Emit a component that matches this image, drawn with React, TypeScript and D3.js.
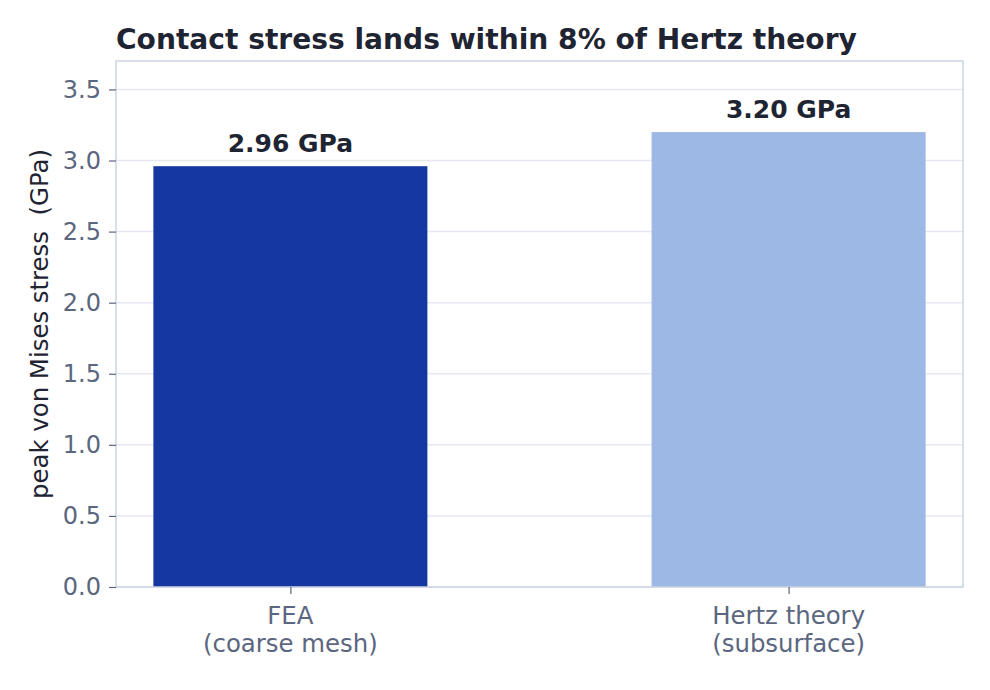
import React, { useEffect, useRef } from 'react';
import * as d3 from 'd3';

const categories = ['FEA\n(coarse mesh)', 'Hertz theory\n(subsurface)'];
const values = [2.96, 3.20];
const valueLabels = ['2.96 GPa', '3.20 GPa'];
const barColors = ['#1437a0', '#9db8e5'];
const yTicks = [0, 0.5, 1.0, 1.5, 2.0, 2.5, 3.0, 3.5];

export default function App() {
    const ref = useRef<SVGSVGElement>(null);

    useEffect(() => {
        if (!ref.current) return;
        const svg = d3.select(ref.current);
        svg.selectAll('*').remove();

        const width = 990;
        const height = 690;
        const margin = { top: 61, right: 27, bottom: 103, left: 116 };
        const font = "'DejaVu Sans', sans-serif";

        svg.attr('width', width).attr('height', height);
        svg.append('rect').attr('width', width).attr('height', height).attr('fill', '#fff');

        const x = d3.scaleLinear()
            .domain([-0.35, 1.35])
            .range([margin.left, width - margin.right]);
        const y = d3.scaleLinear()
            .domain([0, 3.7])
            .range([height - margin.bottom, margin.top]);
        const barW = x(0.55) - x(0);

        // grid
        svg.append('g')
            .selectAll('line')
            .data(yTicks)
            .enter()
            .append('line')
            .attr('x1', margin.left)
            .attr('x2', width - margin.right)
            .attr('y1', d => y(d))
            .attr('y2', d => y(d))
            .attr('stroke', '#e5e8f2')
            .attr('stroke-width', 1.5);

        // bars
        svg.append('g')
            .selectAll('rect')
            .data(values)
            .enter()
            .append('rect')
            .attr('x', (d, i) => x(i) - barW / 2)
            .attr('y', d => y(d))
            .attr('width', barW)
            .attr('height', d => y(0) - y(d))
            .attr('fill', (d, i) => barColors[i]);

        // value labels
        svg.append('g')
            .selectAll('text')
            .data(values)
            .enter()
            .append('text')
            .attr('x', (d, i) => x(i))
            .attr('y', d => y(d) - 14)
            .attr('text-anchor', 'middle')
            .attr('font-family', font)
            .attr('font-weight', 'bold')
            .attr('font-size', 25)
            .attr('fill', '#1f2433')
            .text((d, i) => valueLabels[i]);

        // frame
        svg.append('rect')
            .attr('x', margin.left)
            .attr('y', margin.top)
            .attr('width', width - margin.right - margin.left)
            .attr('height', height - margin.bottom - margin.top)
            .attr('fill', 'none')
            .attr('stroke', '#cbd5e1')
            .attr('stroke-width', 1.5);

        // y axis
        const yAxis = svg.append('g')
            .attr('transform', `translate(${margin.left},0)`)
            .call(d3.axisLeft(y).tickValues(yTicks).tickFormat(d3.format('.1f')).tickSize(7).tickPadding(8));
        yAxis.select('.domain').remove();
        yAxis.selectAll('line').attr('stroke', '#5b6680').attr('stroke-width', 1.2);
        yAxis.selectAll('text')
            .attr('font-family', font)
            .attr('font-size', 24)
            .attr('fill', '#5b6680');

        // x axis
        const xAxis = svg.append('g')
            .attr('transform', `translate(0,${height - margin.bottom})`)
            .call(d3.axisBottom(x).tickValues([0, 1]).tickFormat(() => '').tickSize(7));
        xAxis.select('.domain').remove();
        xAxis.selectAll('line').attr('stroke', '#5b6680').attr('stroke-width', 1.2);

        const xLabels = svg.append('g');
        categories.forEach((c, i) => {
            const t = xLabels.append('text')
                .attr('text-anchor', 'middle')
                .attr('font-family', font)
                .attr('font-size', 24.4)
                .attr('fill', '#5b6680');
            c.split('\n').forEach((line, j) => {
                t.append('tspan')
                    .attr('x', x(i))
                    .attr('y', 624 + j * 28)
                    .text(line);
            });
        });

        // y label
        svg.append('text')
            .attr('transform', `translate(48,${(margin.top + height - margin.bottom) / 2}) rotate(-90)`)
            .attr('text-anchor', 'middle')
            .attr('font-family', font)
            .attr('font-size', 24.4)
            .attr('fill', '#1f2433')
            .style('white-space', 'pre')
            .text('peak von Mises stress  (GPa)');

        // title
        svg.append('text')
            .attr('x', margin.left)
            .attr('y', 49)
            .attr('font-family', font)
            .attr('font-weight', 'bold')
            .attr('font-size', 28.1)
            .attr('fill', '#1f2433')
            .text('Contact stress lands within 8% of Hertz theory');
    }, []);

    return <svg ref={ref} style={{ position: 'absolute', top: 0, left: 0, display: 'block' }} />;
}
